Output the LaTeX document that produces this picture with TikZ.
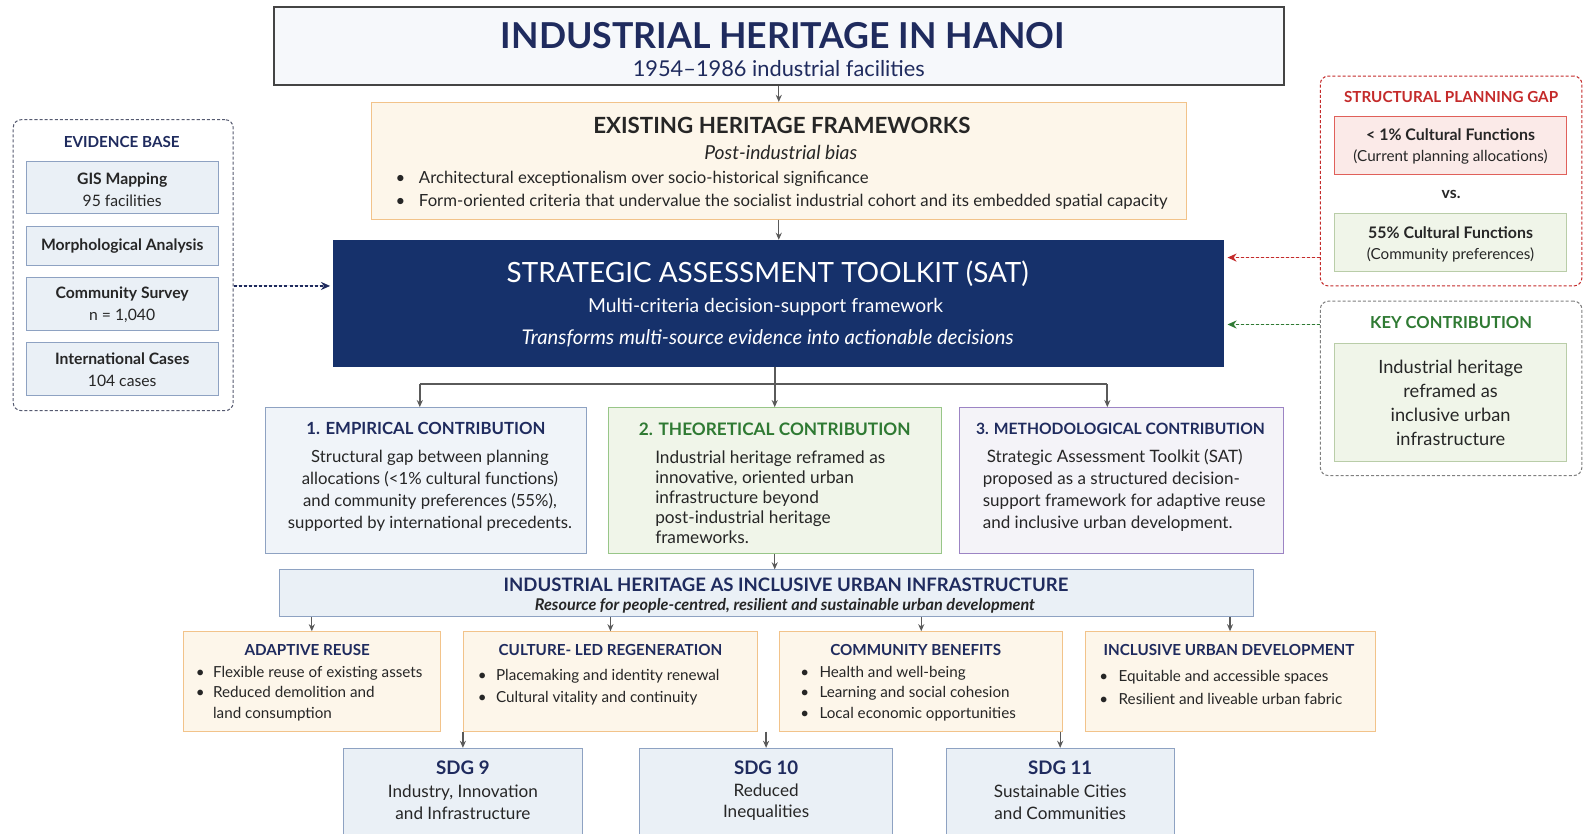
\documentclass[tikz,border=0pt]{standalone}
\usepackage{fontspec}
\setmainfont{Lato}
\usetikzlibrary{arrows.meta,calc}

\definecolor{navy}{HTML}{1F2B5E}
\definecolor{satblue}{HTML}{16316B}
\definecolor{ink}{HTML}{262626}
\definecolor{edgegray}{HTML}{444444}
\definecolor{linkgray}{HTML}{5A5A5A}
\definecolor{titlefill}{HTML}{F6F8FB}
\definecolor{creamfill}{HTML}{FDF6EA}
\definecolor{creamedge}{HTML}{F2C38A}
\definecolor{bluefill}{HTML}{EAF0F6}
\definecolor{blueedge}{HTML}{8EA2C2}
\definecolor{greenfill}{HTML}{F0F5E9}
\definecolor{greenedge}{HTML}{98C688}
\definecolor{lavfill}{HTML}{F4F3F8}
\definecolor{lavedge}{HTML}{9C84C4}
\definecolor{redtxt}{HTML}{C42B2B}
\definecolor{redfill}{HTML}{FBEAE8}
\definecolor{rededge}{HTML}{E0605A}
\definecolor{greentxt}{HTML}{2F7A33}
\definecolor{dashgray}{HTML}{555A70}
\definecolor{keyedge}{HTML}{B9CDA8}

\newcommand{\fsz}[2]{\fontsize{#1}{#2}\selectfont}
\newcommand{\bul}[1]{\makebox[#1][l]{\textbullet}}

\tikzset{
  wh/.style 2 args={minimum width=#1pt, minimum height=#2pt},
  box/.style={rectangle, draw, line width=1pt, inner sep=0pt},
  cream/.style={box, fill=creamfill, draw=creamedge},
  bluebox/.style={box, fill=bluefill, draw=blueedge},
  greenbox/.style={box, fill=greenfill, draw=greenedge},
  redbox/.style={box, fill=redfill, draw=rededge},
  dashbox/.style={box, dash pattern=on 3pt off 2pt, rounded corners=8pt},
  link/.style={draw=linkgray, line width=1.3pt, -{Stealth[length=7pt,width=6pt]}},
  trunk/.style={draw=linkgray, line width=1.8pt},
  dasharrow/.style={line width=1.1pt, dash pattern=on 3pt off 2pt, shorten >=3pt, -{Stealth[length=9pt,width=8pt]}},
  hd/.style={font=\fsz{16}{19}\bfseries, text=navy, inner sep=0pt},
  txt/.style={font=\fsz{16}{22}, text=ink, align=center, inner sep=0pt},
}

\begin{document}
\begin{tikzpicture}[x=1pt,y=-1pt]
\clip (0,0) rectangle (1568,822);
\fill[white] (0,0) rectangle (1568,822);

\node[box, wh={996}{77}, fill=titlefill, draw=edgegray, line width=1.5pt] (title) at (768,45.5) {};
\node[font=\fsz{35.2}{40}\bfseries, text=navy, inner sep=0pt] (titletext) at (772,35) {INDUSTRIAL HERITAGE IN HANOI};
\node[font=\fsz{21.5}{24}, text=navy, inner sep=0pt] (period) at (768,68) {1954--1986 industrial facilities};

\node[cream, wh={804}{115}] (frame) at (768,158.5) {};
\node[font=\fsz{22}{25}\bfseries, text=ink, inner sep=0pt] (frametitle) at (771,124) {EXISTING HERITAGE FRAMEWORKS};
\node[font=\fsz{19}{20}\itshape, text=ink, inner sep=0pt] (bias) at (770,150) {Post-industrial bias};
\node[txt, align=left, anchor=west, font=\fsz{16.5}{23}] (biaslist) at (390,187.5)
  {\bul{23pt}Architectural exceptionalism over socio-historical significance\\
   \bul{23pt}Form-oriented criteria that undervalue the socialist industrial cohort and its embedded spatial capacity};

\node[box, wh={878}{124}, fill=satblue, draw=satblue] (sat) at (768,299) {};
\node[font=\fsz{27.5}{30}, text=white, inner sep=0pt] (sattitle) at (757,270) {STRATEGIC ASSESSMENT TOOLKIT (SAT)};
\node[font=\fsz{19}{22}, text=white, inner sep=0pt] (satsub) at (755,303) {Multi-criteria decision-support framework};
\node[font=\fsz{20}{22}\itshape, text=white, inner sep=0pt] (satnote) at (757,334) {Transforms multi-source evidence into actionable decisions};

\draw[link] (frame.north |- title.south) -- (frame.north);
\draw[link] (frame.south) -- (frame.south |- sat.north);

\node[dashbox, draw=dashgray, wh={217}{287}] (evidence) at (121.5,261.5) {};
\node[hd, font=\fsz{15}{17}\bfseries] (evtitle) at (120,140) {EVIDENCE BASE};
\node[bluebox, wh={189}{52}] (gis) at (120.5,185) {};
\node[txt, font=\fsz{15.5}{22}] (gistext) at (120.5,187) {\textbf{GIS Mapping}\\95 facilities};
\node[bluebox, wh={189}{39}] (morph) at (120.5,242.5) {};
\node[txt, font=\fsz{15.5}{22}\bfseries] (morphtext) at (120.5,242.5) {Morphological Analysis};
\node[bluebox, wh={189}{52}] (survey) at (120.5,300) {};
\node[txt, font=\fsz{15.5}{22}] (surveytext) at (120.5,300.5) {\textbf{Community Survey}\\n = 1,040};
\node[bluebox, wh={189}{52}] (cases) at (120.5,364) {};
\node[txt, font=\fsz{15.5}{22}] (casestext) at (120.5,364.5) {\textbf{International Cases}\\104 cases};
\draw[dasharrow, draw=navy, fill=navy] ([yshift=-20.5pt]evidence.east) -- ([yshift=-20.5pt]evidence.east -| sat.west);

\node[dashbox, draw=redtxt, wh={258}{207}] (gap) at (1431,178.5) {};
\node[font=\fsz{15}{17}\bfseries, text=redtxt, inner sep=0pt] (gaptitle) at (1431,96) {STRUCTURAL PLANNING GAP};
\node[redbox, wh={229}{57}] (low) at (1430.5,143.5) {};
\node[txt, font=\fsz{15.7}{22}\bfseries] (lowhead) at (1430.5,133) {< 1\% Cultural Functions};
\node[txt, font=\fsz{15}{22}] (lowtext) at (1430.5,155) {(Current planning allocations)};
\node[txt, font=\fsz{15.5}{18}\bfseries] (vs) at (1431,192) {vs.};
\node[greenbox, draw=keyedge, wh={229}{57}] (high) at (1430.5,239.5) {};
\node[txt, font=\fsz{15.7}{22}\bfseries] (highhead) at (1430.5,229) {55\% Cultural Functions};
\node[txt, font=\fsz{15}{22}] (hightext) at (1430.5,251) {(Community preferences)};
\draw[dasharrow, draw=redtxt, fill=redtxt] ([yshift=-75.5pt]gap.west) -- ([yshift=-75.5pt]gap.west -| sat.east);

\node[dashbox, draw=gray, wh={258}{172}] (key) at (1431,383) {};
\node[font=\fsz{16.3}{19}\bfseries, text=greentxt, inner sep=0pt] (keytitle) at (1431,318) {KEY CONTRIBUTION};
\node[greenbox, draw=keyedge, wh={229}{116}] (keybox) at (1430.5,397) {};
\node[txt, font=\fsz{18}{23.7}] (keytext) at (1430.5,397) {Industrial heritage\\reframed as\\inclusive urban\\infrastructure};
\draw[dasharrow, draw=greentxt, fill=greentxt] ([yshift=63pt]key.west) -- ([yshift=63pt]key.west -| sat.east);

\node[bluebox, fill=bluefill!70!white, wh={316}{144}] (empirical) at (420,474) {};
\node[greenbox, wh={328}{144}] (theory) at (764,474) {};
\node[box, fill=lavfill, draw=lavedge, wh={320}{144}] (method) at (1106,474) {};
\coordinate (busl) at (414,379);
\coordinate (busr) at (1092,379);
\draw[trunk] (busl) -- (busr);
\draw[link, line width=1.8pt] (theory.north |- sat.south) -- (theory.north);
\draw[link, line width=1.8pt] (busl) -- (busl |- empirical.north);
\draw[link, line width=1.8pt] (busr) -- (busr |- method.north);

\node[hd, font=\fsz{16.5}{19}\bfseries] (emptitle) at (420,423) {1. EMPIRICAL CONTRIBUTION};
\node[txt, font=\fsz{16.5}{22}] (emptext) at (424,484) {Structural gap between planning\\allocations (<1\% cultural functions)\\and community preferences (55\%),\\supported by international precedents.};
\node[hd, font=\fsz{17}{19}\bfseries, text=greentxt] (theotitle) at (764,423) {2. THEORETICAL CONTRIBUTION};
\node[txt, align=left, anchor=west, font=\fsz{17}{19.8}] (theotext) at (646,490) {Industrial heritage reframed as\\innovative, oriented urban\\infrastructure beyond\\post-industrial heritage\\frameworks.};
\node[hd, font=\fsz{15.4}{19}\bfseries] (methtitle) at (1105,423) {3. METHODOLOGICAL CONTRIBUTION};
\node[txt, align=left, anchor=west, font=\fsz{16.8}{21.7}] (methtext) at (969,484) {\hspace*{4pt}Strategic Assessment Toolkit (SAT)\\proposed as a structured decision-\\support framework for adaptive reuse\\and inclusive urban development.};

\node[bluebox, wh={960}{46}] (inclusive) at (756,585) {};
\node[hd, font=\fsz{18.3}{19}\bfseries] (inctitle) at (775,577) {INDUSTRIAL HERITAGE AS INCLUSIVE URBAN INFRASTRUCTURE};
\node[txt, font=\fsz{16}{17}\bfseries\itshape] (incsub) at (774,597) {Resource for people-centred, resilient and sustainable urban development};
\draw[link] (theory.south) -- (theory.south |- inclusive.north);

\node[cream, wh={253}{98}] (reuse) at (307.5,672) {};
\node[cream, wh={290}{98}] (culture) at (602,672) {};
\node[cream, wh={279}{98}] (community) at (908.5,672) {};
\node[cream, wh={286}{98}] (urban) at (1213,672) {};
\foreach \b in {reuse,culture,community,urban}
  \draw[link] (\b.north |- inclusive.south) -- (\b.north);

\node[hd, font=\fsz{15}{18}\bfseries] (reusetitle) at (303,641) {ADAPTIVE REUSE};
\node[txt, align=left, anchor=west, font=\fsz{15}{20}] (reusetext) at (193,684)
  {\bul{17pt}Flexible reuse of existing assets\\\bul{17pt}Reduced demolition and\\\hspace*{17pt}land consumption};
\node[hd, font=\fsz{15}{18}\bfseries] (culturetitle) at (602,641) {CULTURE- LED REGENERATION};
\node[txt, align=left, anchor=west, font=\fsz{15}{22}] (culturetext) at (471,678)
  {\bul{18pt}Placemaking and identity renewal\\\bul{18pt}Cultural vitality and continuity};
\node[hd, font=\fsz{15}{18}\bfseries] (commtitle) at (903,641) {COMMUNITY BENEFITS};
\node[txt, align=left, anchor=west, font=\fsz{15}{20}] (commtext) at (789,684)
  {\bul{19pt}Health and well-being\\\bul{19pt}Learning and social cohesion\\\bul{19pt}Local economic opportunities};
\node[hd, font=\fsz{15}{18}\bfseries] (urbantitle) at (1212,641) {INCLUSIVE URBAN DEVELOPMENT};
\node[txt, align=left, anchor=west, font=\fsz{15}{22}] (urbantext) at (1084,678)
  {\bul{19pt}Equitable and accessible spaces\\\bul{19pt}Resilient and liveable urban fabric};

\node[bluebox, wh={235}{112}] (sdg9) at (456.5,794) {};
\node[bluebox, wh={249}{112}] (sdg10) at (755.5,794) {};
\node[bluebox, wh={225}{112}] (sdg11) at (1045.5,794) {};
\draw[link] (sdg9.north |- reuse.south) -- (sdg9.north);
\draw[link] (sdg10.north |- reuse.south) -- (sdg10.north);
\draw[link] (sdg11.north |- reuse.south) -- (sdg11.north);
\node[hd, font=\fsz{18.4}{20}\bfseries] (sdg9head) at (456.5,757) {SDG 9};
\node[txt, font=\fsz{16.9}{21}] (sdg9text) at (456.5,791) {Industry, Innovation\\and Infrastructure};
\node[hd, font=\fsz{18.4}{20}\bfseries] (sdg10head) at (755.5,757) {SDG 10};
\node[txt, font=\fsz{16.9}{21}] (sdg10text) at (755.5,791) {Reduced\\Inequalities};
\node[hd, font=\fsz{18.4}{20}\bfseries] (sdg11head) at (1045.5,757) {SDG 11};
\node[txt, font=\fsz{16.9}{21}] (sdg11text) at (1045.5,791) {Sustainable Cities\\and Communities};
\end{tikzpicture}
\end{document}
